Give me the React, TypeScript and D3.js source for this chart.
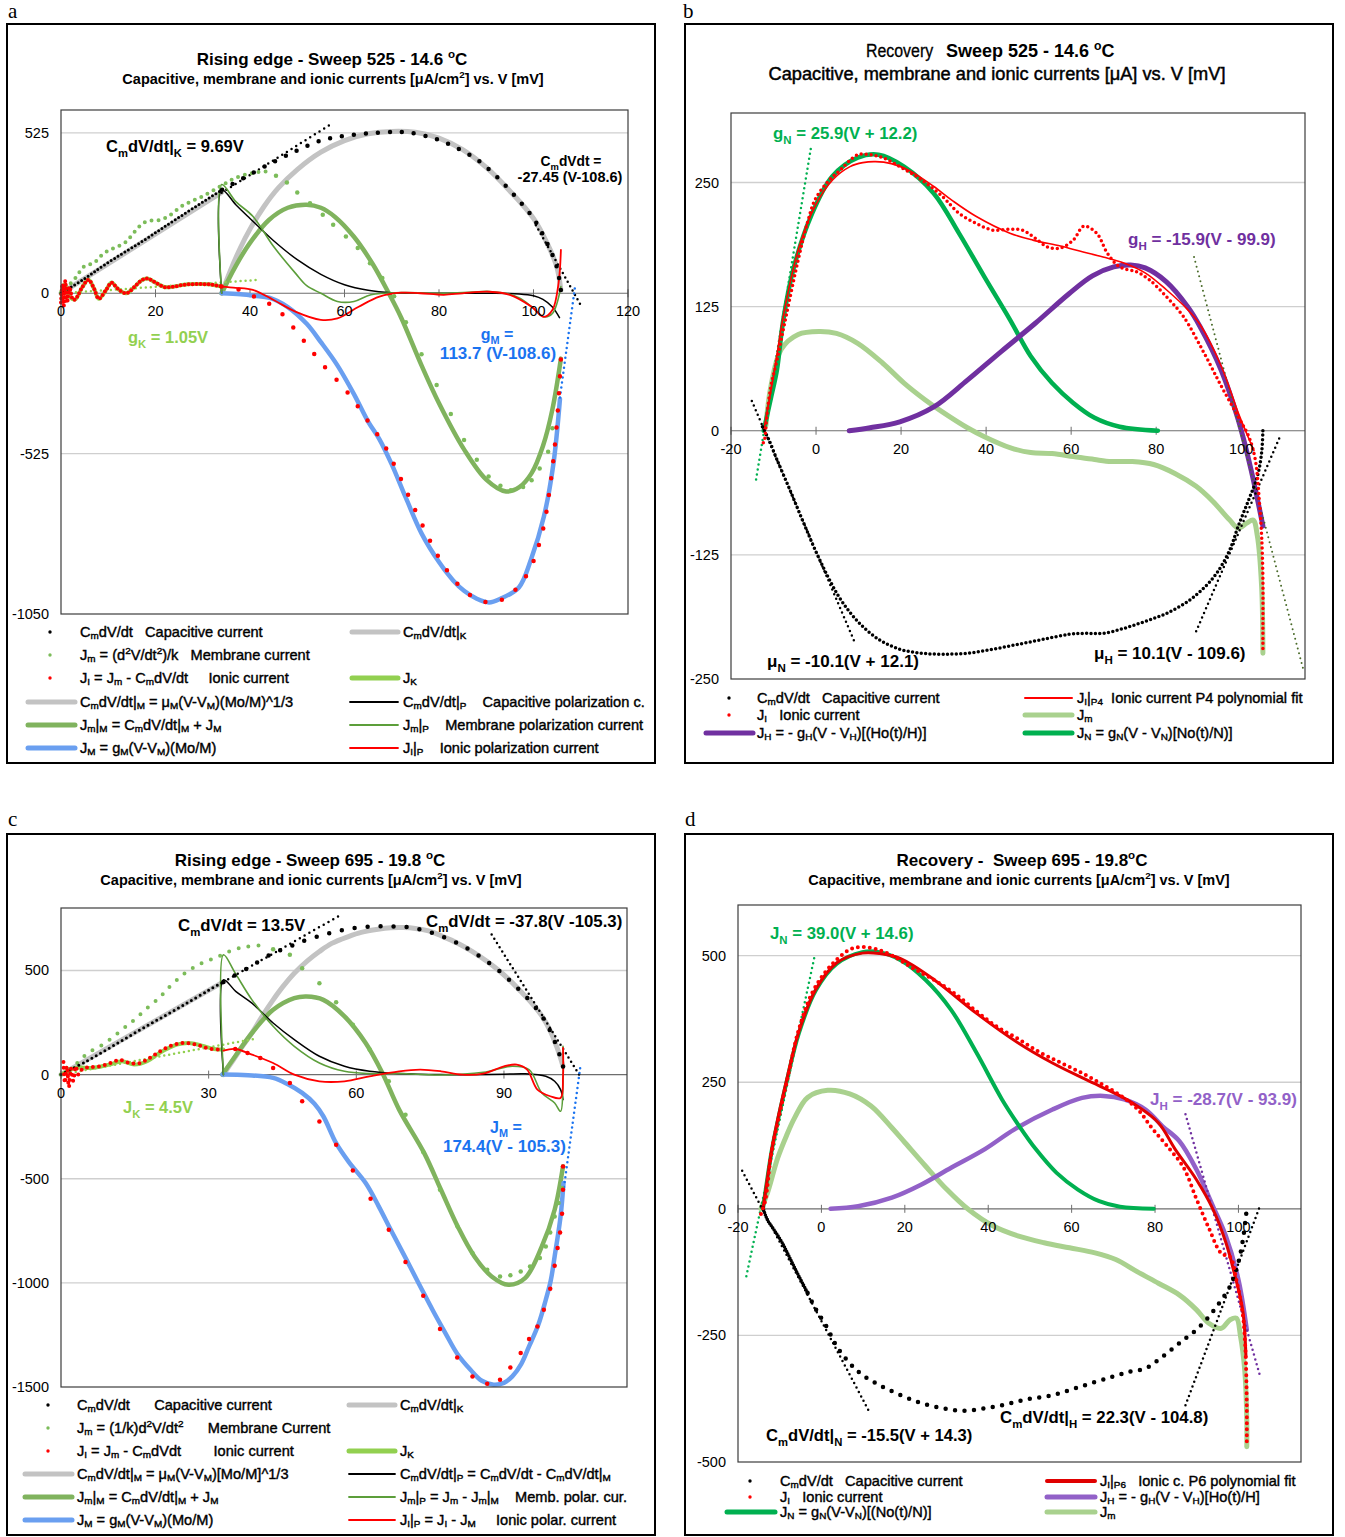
import React from 'react';
import * as d3 from 'd3';

type P = [number, number];

const FONT = "'Liberation Sans', Arial, Helvetica, sans-serif";

// ================= Panel a : Rising edge, sweep 525 =================
const aXTicks = [0, 20, 40, 60, 80, 100, 120];
const aYTicks = [525, 0, -525, -1050];
const aGrid = [525, -525];
const aGreyK: P[] = [[0, 0], [34, 330]];
const aGreyM: P[] = [[34, 0], [36, 80], [38, 150], [40, 210], [43, 285], [46, 345], [50, 405], [55, 462], [60, 500], [65, 522], [70, 530], [75, 527], [80, 508], [85, 470], [90, 412], [95, 335], [100, 245], [103, 160], [104.9, 88], [105.8, 10]];
const aKOsc: P[] = [[0, 0], [0.8, 30], [1.8, -10], [3, -20], [4.5, 20], [5.8, 44], [7, 15], [8, -18], [9.5, 10], [10.7, 35], [12, 15], [13.8, 0], [15.5, 20], [17, 42], [18.3, 48], [20, 35], [22, 20], [24, 22], [26, 28], [28, 30], [30, 30], [32, 28], [34, 22]];
const aMemM: P[] = [[34, 0], [37, 90], [40, 165], [44, 240], [48, 280], [52, 290], [55, 280], [58, 250], [62, 185], [66, 95], [69.2, 5], [72, -80], [76.3, -236], [80, -360], [85.3, -511], [90, -610], [94.2, -649], [97, -635], [99.6, -589], [102, -500], [104, -380], [105.8, -214]];
const aJM: P[] = [[34, 0], [38, -3], [41, -8], [44.2, -15], [48, -45], [52, -100], [55, -160], [58.5, -236], [62, -330], [65, -420], [67.4, -478], [70, -560], [73, -670], [76.3, -786], [80, -880], [83, -940], [85.3, -974], [88, -1000], [90.6, -1012], [93, -1000], [96.9, -963], [99.5, -870], [102.2, -731], [104.2, -560], [105.6, -346]];
const aKFit: P[] = [[0, 0], [42, 44]];
const aCapFitK: P[] = [[34, 329], [57, 552]];
const aCapFitM: P[] = [[100.5, 223], [110.3, -47]];
const aJMFit: P[] = [[105.6, -341], [108.8, 23]];
const aPolCap: P[] = [[34, 0], [34, 339], [37, 290], [40, 245], [45, 172], [50, 110], [55, 62], [60, 28], [65, 10], [70, 2], [80, 0], [90, 0], [97, -2], [100, -8], [102, -20], [104, -45], [105.5, -80]];
const aPolMem: P[] = [[34, 0], [34, 356], [37, 300], [40.6, 252], [45, 153], [49.6, 66], [52, 25], [55, 0], [58.5, -27], [62, -27], [65.6, -5], [72, 2], [81, 0], [87, 4], [90.6, 6], [94, 0], [97, -15], [99.6, -44], [102.2, -77], [104, -66], [105.8, 22]];
const aPolIon: P[] = [[34, 22], [37, 18], [40.6, 11], [45, -22], [49.6, -60], [55, -87], [58.5, -82], [63, -44], [67.4, -11], [72, 2], [76, 0], [81, -5], [85, 0], [90.6, 5], [95, -5], [99.6, -44], [102.2, -77], [104, -55], [105.3, 33], [105.8, 142]];
const aMemRise: P[] = [[0, 0], [3, 49], [4.9, 88], [7, 100], [9, 130], [11.2, 148], [13.5, 165], [15.5, 200], [17.4, 230], [19, 238], [21, 240], [23, 255], [25.4, 284], [27.5, 300], [29.9, 317], [32, 335], [34.4, 356], [37, 378], [40.6, 394], [43.3, 399]];
const aMemFall: P[] = [[45.5, 385], [47.8, 363], [50, 330], [52.7, 295], [55.4, 257], [57.6, 224], [60.3, 186], [62.8, 148], [65.4, 98], [68, 50], [70.5, -10], [73, -95], [76.3, -200], [79.5, -300], [82.5, -395], [85.3, -480], [88, -545], [90.5, -600], [93, -630], [95.2, -645], [97.8, -634], [99.6, -612], [101.3, -574], [103.1, -519], [104, -442], [105.4, -276]];
const aCapRise: P[] = [[0, 0], [4.7, 45], [9.4, 95], [17.4, 172], [24.6, 245], [34.1, 339]];
const aCapArch: P[] = [[34.1, 339], [40.6, 394], [46, 438], [50.4, 470], [54.9, 500], [58.5, 512], [63, 521], [67.4, 526], [71, 528], [73.7, 526], [79, 507], [83.5, 478], [88, 438], [92, 385], [96, 320], [100, 245], [103, 160], [104.9, 88], [105.8, 10]];
const aIonRise: P[] = [[0, -30], [0.3, 30], [0.6, -40], [0.9, 40], [1.3, -30], [1.8, 20], [2.5, -20], [3, -20], [4.5, 20], [5.8, 44], [7, 15], [8, -18], [9.5, 10], [10.7, 35], [12, 15], [13.8, 0], [15.5, 20], [17, 42], [18.3, 48], [20, 35], [22, 20], [24, 22], [26, 28], [28, 30], [30, 30], [32, 28], [34, 22]];
const aIonFall: P[] = [[34, 22], [38, 10], [42, -20], [45.5, -48], [50.4, -136], [55.2, -230], [60.3, -318], [65.4, -428], [68.3, -494], [71, -577], [76.3, -753], [81.2, -896], [86.2, -984], [90.6, -1012], [94.2, -996], [98.7, -919], [101.8, -787], [103.6, -621], [104.9, -434], [105.8, -214]];

// ================= Panel b : Recovery, sweep 525 =================
const bXTicks = [-20, 0, 20, 40, 60, 80, 100];
const bYTicks = [250, 125, 0, -125, -250];
const bGrid = [250, 125, -125];
const bJm: P[] = [[-11.8, 5], [-10.6, 45], [-8.2, 82], [-4.2, 97], [0.8, 100], [4.8, 98], [9.8, 88], [15.7, 68], [20.7, 48], [25.7, 31], [29.7, 19], [35.6, 3], [39.6, -6], [45.6, -17], [50.5, -22], [55.5, -23], [60.5, -26], [65.5, -29], [69.5, -31], [74.4, -31], [79.4, -34], [84.4, -43], [89.4, -56], [93.3, -71], [97.3, -90], [99.3, -98], [101.3, -93], [102.8, -90], [103.8, -106], [104.8, -157], [105.1, -224]];
const bJN: P[] = [[-12.3, 0], [-10.5, 35], [-9.2, 61], [-7.7, 112], [-5.2, 165], [-1.2, 216], [3.8, 256], [9.8, 275], [14.7, 278], [20.7, 266], [27.7, 239], [33.6, 199], [39.6, 155], [45.6, 112], [50.5, 75], [55.5, 48], [60.5, 28], [65.5, 13], [71.4, 4], [80.4, 0]];
const bJH: P[] = [[7.8, 0], [12.7, 3], [19.7, 9], [27.7, 24], [35.6, 51], [43.6, 80], [51.5, 108], [59.5, 138], [65, 156], [70, 165], [74, 167], [77.4, 164], [82.4, 150], [87.4, 125], [90.3, 105], [95.3, 61], [99.3, 11], [102.3, -39], [105.1, -96]];
const bGN: P[] = [[-14.1, -49], [-1.2, 285]];
const bGH: P[] = [[88.9, 175], [114.7, -242]];
const bMuN: P[] = [[-15.1, 30], [9.3, -215]];
const bMuH: P[] = [[89.4, -202], [109.3, -4]];
const bIonFit: P[] = [[-12.3, 0], [-10, 55], [-7.5, 120], [-4, 185], [0, 228], [4, 253], [8, 266], [11, 270], [14, 271], [17.7, 269], [22, 262], [27.7, 246], [32, 232], [37.6, 216], [45.6, 199], [51, 192], [57.5, 186], [62, 181], [67.5, 175], [72.4, 169], [77.4, 159], [82.4, 142], [87.4, 122], [90.3, 107], [95.3, 65], [99.3, 18], [101.3, -3], [103, -20]];
const bCapDots: P[] = [[-12.6, 4], [-11.1, -9], [-9.2, -29], [-6.2, -59], [-3.2, -90], [-0.2, -120], [2.8, -147], [5.8, -170], [9.8, -192], [14.7, -210], [19.7, -220], [24.7, -224], [29.7, -225], [35.6, -224], [41.6, -220], [47.6, -215], [53.5, -210], [59.5, -205], [63.5, -204], [67.5, -204], [72.4, -199], [77.4, -192], [82.4, -184], [87.4, -172], [91.3, -158], [94.3, -143], [97.3, -120], [99.3, -96], [101.8, -69], [103.8, -46], [104.8, -22], [105.1, 1]];
const bIonDots: P[] = [[-12.4, -12], [-12.1, -9], [-11.6, 14], [-10.6, 45], [-9.2, 71], [-7.7, 102], [-7.2, 112], [-4.2, 172], [-2, 210], [-0.2, 233], [2.8, 251], [5.8, 263], [9.8, 278], [12.7, 278], [15.7, 275], [19.7, 266], [24.7, 253], [29.7, 236], [33.6, 219], [37.6, 209], [41.6, 202], [45.6, 203], [48.6, 202], [51.5, 194], [54.5, 185], [57.5, 184], [60.5, 192], [63, 206], [66, 199], [68.5, 179], [71.4, 165], [75.4, 160], [78.4, 152], [82.4, 135], [86.4, 115], [91.3, 78], [95.3, 45], [99.3, 14], [101.8, -6], [103.3, -29], [104.3, -73], [104.8, -106], [105.1, -150], [105.1, -197], [105.1, -224]];

// ================= Panel c : Rising edge, sweep 695 =================
const cXTicks = [0, 30, 60, 90];
const cYTicks = [500, 0, -500, -1000, -1500];
const cGrid = [500, -500, -1000];
const cGreyK: P[] = [[0, 0], [33, 445]];
const cGreyM: P[] = [[33, 0], [35, 70], [37, 140], [38.8, 200], [41, 285], [43.1, 359], [45, 420], [47.4, 487], [50, 545], [52.5, 591], [55, 630], [58.4, 663], [61, 683], [64.4, 698], [67, 705], [69.5, 706], [72, 702], [74.7, 690], [77.5, 664], [80.6, 631], [83.6, 591], [86.6, 543], [89.2, 495], [91.3, 450], [93.4, 400], [95.6, 345], [97.7, 282], [99.4, 210], [100.7, 135], [101.5, 80], [102, 40]];
const cKOsc: P[] = [[0, 0], [3, 32], [6.4, 32], [9.8, 48], [12.4, 64], [14.9, 48], [17.5, 64], [20, 104], [23.5, 144], [26, 152], [28.6, 139], [31.1, 123], [33, 120]];
const cMemM: P[] = [[32.8, 0], [35, 75], [38.8, 200], [43.1, 311], [47.4, 367], [49.9, 375], [53.3, 359], [57.6, 280], [61.9, 152], [65.3, 8], [68.7, -168], [73.8, -377], [77.2, -553], [80.6, -729], [84, -873], [87.5, -969], [90.9, -1009], [94.3, -977], [97.7, -825], [100.3, -649], [102, -441]];
const cJM: P[] = [[32.8, 0], [38, -3], [43.1, -16], [46, -45], [49, -88], [51.5, -140], [53.3, -200], [55.9, -329], [58.5, -420], [61.9, -521], [64.5, -630], [67, -745], [70, -880], [73, -1017], [75.5, -1130], [78.1, -1241], [80.5, -1340], [83.2, -1417], [85.5, -1470], [87.9, -1489], [90, -1480], [91.7, -1449], [93.5, -1390], [95.1, -1305], [97, -1200], [98.5, -1081], [99.5, -990], [100.3, -873], [101.5, -681], [102.1, -521]];
const cKFit: P[] = [[0, 0], [39, 170]];
const cCapFitK: P[] = [[33, 445], [56.7, 765]];
const cCapFitM: P[] = [[87.5, 673], [105.5, -8]];
const cJMFit: P[] = [[102.2, -540], [105.5, 35]];
const cPolCap: P[] = [[33, 0], [33, 455], [35.5, 400], [38.8, 343], [43.1, 248], [47.4, 168], [52.5, 88], [57.6, 40], [62.7, 16], [68.7, 5], [77.2, 0], [90, 2], [94.3, 4], [98.5, -8], [100.3, -32], [101.5, -72], [102, -120]];
const cPolMem: P[] = [[33, 0], [33, 575], [35.4, 487], [38.8, 359], [43.1, 232], [47.4, 136], [52.5, 56], [57.6, 16], [62.7, 5], [68.7, 5], [77.2, -2], [85.8, 11], [91.7, 40], [95.1, 24], [97.7, -88], [100.3, -136], [101.5, -176], [102, -40], [102, 136]];
const cPolIon: P[] = [[33, 115], [35.4, 123], [38.8, 96], [43.1, 56], [47.4, 0], [52.5, -32], [57.6, -32], [62.7, -8], [68.7, 16], [73, 24], [77.2, 16], [81.5, 0], [85.8, 5], [90, 40], [92.6, 48], [94.7, 24], [96.8, -72], [99.4, -104], [101.5, -112], [102, -8], [102, 128]];
const cMemRise: P[] = [[0, 0], [3, 50], [5.5, 104], [9, 152], [12.4, 216], [15, 265], [17.5, 319], [20, 370], [21.8, 415], [25.2, 487], [28.6, 535], [32, 567], [35, 599], [37.9, 615], [40.5, 620]];
const cMemFall: P[] = [[43.1, 602], [46.5, 575], [49, 511], [52.5, 439], [55.9, 347], [59.3, 240], [62.7, 120], [66.6, -32], [70, -193], [73.6, -372], [77, -553], [80.5, -726], [83.6, -857], [86.6, -937], [89.2, -969], [91.3, -964], [93.4, -945], [95.3, -921], [97.3, -881], [98.5, -825], [99.4, -758], [100.3, -681], [101.1, -617], [101.8, -545], [102, -441]];
const cCapRise: P[] = [[0, 0], [5, 62], [10, 130], [15, 200], [20, 268], [25, 335], [30, 405], [33, 445]];
const cCapArch: P[] = [[33, 445], [37.9, 511], [43.1, 583], [46.5, 615], [49, 639], [52.5, 666], [55.9, 687], [59.3, 703], [63.1, 711], [66.6, 712], [70.4, 708], [73.8, 692], [77.2, 666], [80.6, 631], [83.6, 591], [86.6, 543], [89.2, 495], [91.3, 450], [93.4, 400], [95.6, 345], [97.7, 282], [99.4, 210], [100.7, 135], [101.5, 80], [102, 40], [102, -10]];
const cIonRise: P[] = [[0.5, 60], [0.8, -40], [1.2, 40], [1.6, -60], [2, 30], [2.5, -30], [3, 40], [3.5, 0], [4.5, 30], [6, 35], [8, 40], [10, 55], [12, 70], [14, 55], [16, 55], [18, 80], [20, 110], [22, 135], [24, 150], [26, 150], [28, 140], [30, 125], [33, 120]];
const cIonFall: P[] = [[35.4, 123], [37.9, 104], [40.5, 80], [43.1, 32], [46.5, -40], [49, -128], [52.5, -225], [55.9, -337], [59.3, -460], [62.9, -596], [66.6, -745], [70, -900], [73.6, -1062], [77, -1222], [80.5, -1358], [83.6, -1449], [86.6, -1484], [89.2, -1465], [91.3, -1406], [93.4, -1337], [95.1, -1270], [96.8, -1209], [98.1, -1129], [99.4, -1028], [100.3, -918], [100.9, -833], [101.4, -758], [101.8, -668], [102, -553], [102, -441]];

// ================= Panel d : Recovery, sweep 695 =================
const dXTicks = [-20, 0, 20, 40, 60, 80, 100];
const dYTicks = [500, 250, 0, -250, -500];
const dGrid = [500, 250, -250];
const dJm: P[] = [[-14.5, 0], [-13, 30], [-10.5, 100], [-8.4, 144], [-6.4, 180], [-3.3, 220], [1.5, 234], [6.8, 227], [11.9, 203], [16.9, 160], [20, 131], [24.9, 85], [30.1, 38], [35.2, -1], [41.2, -34], [47.3, -54], [53.4, -67], [59.5, -77], [65.6, -87], [70.6, -100], [75.7, -124], [80.8, -147], [85.8, -170], [89.9, -199], [92.9, -226], [95.9, -236], [98, -219], [99.5, -216], [100.5, -252], [101.5, -318], [102, -417], [102, -470]];
const dJH: P[] = [[2.2, 0], [8.8, 5], [16.9, 22], [24, 48], [31.1, 81], [39.2, 118], [46.3, 157], [55.4, 196], [62.5, 219], [67.6, 223], [72.6, 216], [77.7, 196], [81.8, 163], [85.8, 134], [89.9, 78], [93.9, 5], [97, -54], [100, -140], [102, -239]];
const dJN: P[] = [[-14, 0], [-12, 111], [-10.9, 157], [-8.4, 249], [-5.4, 347], [-1.3, 432], [3.7, 484], [9.8, 507], [13.9, 507], [19, 491], [25, 452], [31.1, 393], [37.2, 308], [43.3, 216], [47.3, 165], [51.4, 118], [56.4, 71], [61.5, 38], [66.6, 15], [71.6, 4], [79.7, 0]];
const dGN: P[] = [[-18, -133], [-1.5, 504]];
const dGH: P[] = [[87.3, 187], [105.1, -328]];
const dFitN: P[] = [[-19, 75], [11.3, -398]];
const dFitH: P[] = [[87.3, -388], [105, 2]];
const dIonFit: P[] = [[-14, 0], [-12, 111], [-10.9, 160], [-8.4, 252], [-5.4, 350], [-1.3, 434], [3.7, 486], [9.8, 505], [14, 504], [19, 494], [27.1, 452], [37.2, 386], [47.3, 327], [55.4, 288], [63.5, 255], [71.6, 223], [75.7, 203], [80.8, 170], [84.8, 118], [89.9, 58], [93.9, -1], [97, -67], [99, -127], [101, -199], [101.8, -292]];
const dCapStart: P[] = [[-14, 2], [-13, -21], [-11.4, -41], [-9.4, -67], [-7.4, -100], [-5.4, -133], [-3.3, -166]];
const dCapArc: P[] = [[-3.3, -166], [-1.3, -199], [1.2, -232], [3.7, -272], [6.8, -305], [9.8, -328], [13.9, -348], [19, -368], [24, -384], [29.1, -394], [34.1, -399], [39.2, -394], [44.3, -386], [49.3, -376], [54.4, -370], [59.5, -358], [64.5, -345], [69.6, -332], [73.7, -322], [77.7, -315], [80.7, -299], [83.8, -279], [86.8, -259], [89.9, -239], [92.9, -213], [95.4, -186], [98, -153], [99.5, -120], [100.5, -87], [101.2, -54], [101.7, -21], [102, -1]];
const dIonDots: P[] = [[-14.5, -10], [-13.5, 15], [-12, 111], [-10.5, 170], [-8, 262], [-5.5, 352], [-2, 430], [2, 478], [6.8, 512], [9.8, 517], [13, 513], [17, 500], [22, 475], [27, 452], [32, 425], [37.2, 390], [42, 360], [47.3, 335], [52.4, 309], [57.5, 288], [62.5, 268], [67.5, 245], [72, 222], [76, 195], [79.2, 160], [82.8, 125], [86.8, 82], [89.9, 20], [92.9, -38], [95.9, -88], [98, -95], [99.5, -140], [101, -206], [101.5, -252], [101.8, -305], [102, -391], [102, -467]];

// ================= styles =================
const C = {
  grey: '#c3c3c3', lgreen: '#92d050', mgreen: '#80b35e', dgreen: '#5c9e3a', gdot: '#7cbc5a',
  blue: '#6a9ff0', blueTxt: '#1a73f0', red: '#ff0000', nGreen: '#00b050', purple: '#7030a0',
  purpleD: '#9261c8', jm: '#a9d18e', olive: '#4a6b2a',
};

type Series = { data: P[]; kind: 'line' | 'dotpath' | 'dots'; color: string; w: number; gap?: number };
type Label = {
  text: string; x: number; y: number; size: number; color?: string; weight?: string; anchor?: string;
  stroke?: number; ls?: number; len?: number; sub?: number;
};
type Leg = { kind: 'dot' | 'line'; color: string; w: number; x1: number; x2: number; y: number; text: string; tx: number };
type Cfg = {
  id: string; letter: string; lx: number; ly: number; frame: [number, number, number, number];
  plot: [number, number, number, number]; xDomain: [number, number]; yDomain: [number, number];
  xTicks: number[]; yTicks: number[]; grid: number[]; series: Series[]; labels: Label[]; legend: Leg[];
  legSize: number;
};

function rich(s: string, fs: number, sub = 0.28): React.ReactNode[] {
  const out: React.ReactNode[] = [];
  const re = /([_^])\{([^}]*)\}/g;
  let last = 0, shift = 0, k = 0;
  let m: RegExpExecArray | null;
  while ((m = re.exec(s)) !== null) {
    if (m.index > last) {
      out.push(<tspan key={k++} dy={-shift}>{s.slice(last, m.index)}</tspan>);
      shift = 0;
    }
    const d = m[1] === '_' ? fs * sub : -fs * 0.4;
    out.push(<tspan key={k++} dy={d - shift} fontSize={fs * 0.68}>{m[2]}</tspan>);
    shift = d;
    last = re.lastIndex;
  }
  if (last < s.length) out.push(<tspan key={k++} dy={-shift}>{s.slice(last)}</tspan>);
  return out;
}

function T({ l }: { l: Label }) {
  const extra: any = {};
  if (l.len) { extra.textLength = l.len; extra.lengthAdjust = 'spacingAndGlyphs'; }
  return (
    <text x={l.x} y={l.y} fontSize={l.size} fill={l.color || '#000'} fontWeight={l.weight || 'normal'}
      textAnchor={(l.anchor as any) || 'start'} fontFamily={FONT}
      stroke={l.stroke ? (l.color || '#000') : undefined} strokeWidth={l.stroke || undefined}
      letterSpacing={l.ls || undefined}
      style={{ whiteSpace: 'pre' }} {...extra}>
      {rich(l.text, l.size, l.sub ?? 0.28)}
    </text>
  );
}

function Panel({ cfg }: { cfg: Cfg }) {
  const [l, t, r, b] = cfg.plot;
  const x = d3.scaleLinear().domain(cfg.xDomain).range([l, r]);
  const y = d3.scaleLinear().domain(cfg.yDomain).range([b, t]);
  const smooth = d3.line<P>().x(d => x(d[0])).y(d => y(d[1])).curve(d3.curveCatmullRom.alpha(0.5));
  const y0 = y(0);
  const clip = `clip-${cfg.id}`;
  const [fx, fy, fw, fh] = cfg.frame;
  return (
    <g>
      <defs>
        <clipPath id={clip}><rect x={l - 4} y={t - 4} width={r - l + 8} height={b - t + 8} /></clipPath>
      </defs>
      <text x={cfg.lx} y={cfg.ly} fontSize={21} fontFamily="'Liberation Serif', 'Times New Roman', serif">{cfg.letter}</text>
      <rect x={fx} y={fy} width={fw} height={fh} fill="#fff" stroke="#000" strokeWidth={2} />
      {cfg.grid.map(g => <line key={g} x1={l} x2={r} y1={y(g)} y2={y(g)} stroke="#cfcfcf" strokeWidth={1.3} />)}
      <line x1={l} x2={r} y1={y0} y2={y0} stroke="#6e6e6e" strokeWidth={1.2} />
      {cfg.xTicks.map(v => <line key={v} x1={x(v)} x2={x(v)} y1={y0 - 4} y2={y0 + 4} stroke="#6e6e6e" strokeWidth={1} />)}
      <g clipPath={`url(#${clip})`}>
        {cfg.series.map((s, i) => {
          if (s.kind === 'dots') {
            return <g key={i}>{s.data.map((d, j) => <circle key={j} cx={x(d[0])} cy={y(d[1])} r={s.w / 2} fill={s.color} />)}</g>;
          }
          if (s.kind === 'dotpath') {
            return <path key={i} d={smooth(s.data) || ''} fill="none" stroke={s.color} strokeWidth={s.w}
              strokeLinecap="round" strokeDasharray={`0 ${s.gap || 5}`} />;
          }
          return <path key={i} d={smooth(s.data) || ''} fill="none" stroke={s.color} strokeWidth={s.w}
            strokeLinejoin="round" strokeLinecap="round" />;
        })}
      </g>
      <rect x={l} y={t} width={r - l} height={b - t} fill="none" stroke="#3c3c3c" strokeWidth={1.2} />
      {cfg.yTicks.map(v => (
        <text key={v} x={l - 12} y={y(v) + 5} fontSize={14.5} textAnchor="end" fontFamily={FONT}>{v}</text>
      ))}
      {cfg.xTicks.map(v => (
        <text key={v} x={x(v)} y={y0 + 23} fontSize={14.5} textAnchor="middle" fontFamily={FONT}>{v}</text>
      ))}
      {cfg.labels.map((lb, i) => <T key={i} l={lb} />)}
      {cfg.legend.map((g, i) => (
        <g key={i}>
          {g.kind === 'dot'
            ? <circle cx={(g.x1 + g.x2) / 2} cy={g.y} r={g.w} fill={g.color} />
            : <line x1={g.x1} x2={g.x2} y1={g.y} y2={g.y} stroke={g.color} strokeWidth={g.w} strokeLinecap="round" />}
          <T l={{ text: g.text, x: g.tx, y: g.y + 5, size: cfg.legSize, color: '#000', stroke: 0.4, sub: 0.15 }} />
        </g>
      ))}
    </g>
  );
}

const panelA: Cfg = {
  id: 'a', letter: 'a', lx: 8, ly: 18, frame: [7, 24, 648, 739], plot: [61, 110, 628, 614],
  xDomain: [0, 120], yDomain: [-1050, 600], xTicks: aXTicks, yTicks: aYTicks, grid: aGrid, legSize: 14.6,
  series: [
    { data: aGreyK, kind: 'line', color: C.grey, w: 5 },
    { data: aGreyM, kind: 'line', color: C.grey, w: 5 },
    { data: aKOsc, kind: 'line', color: C.lgreen, w: 4 },
    { data: aMemM, kind: 'line', color: C.mgreen, w: 4.5 },
    { data: aJM, kind: 'line', color: C.blue, w: 4.5 },
    { data: aKFit, kind: 'dotpath', color: C.lgreen, w: 2.5, gap: 5 },
    { data: aCapFitK, kind: 'dotpath', color: '#000', w: 2.5, gap: 5.5 },
    { data: aCapFitM, kind: 'dotpath', color: '#000', w: 2.5, gap: 5 },
    { data: aJMFit, kind: 'dotpath', color: C.blueTxt, w: 2.5, gap: 5 },
    { data: aPolCap, kind: 'line', color: '#000', w: 1.5 },
    { data: aPolMem, kind: 'line', color: C.dgreen, w: 1.6 },
    { data: aPolIon, kind: 'line', color: C.red, w: 1.8 },
    { data: aMemRise, kind: 'dotpath', color: C.gdot, w: 4, gap: 7 },
    { data: aMemFall, kind: 'dots', color: C.gdot, w: 4.5 },
    { data: aCapRise, kind: 'dotpath', color: '#000', w: 3, gap: 4 },
    { data: aCapArch, kind: 'dotpath', color: '#000', w: 4.5, gap: 12 },
    { data: aIonRise, kind: 'dotpath', color: C.red, w: 4, gap: 4 },
    { data: aIonFall, kind: 'dotpath', color: C.red, w: 4.5, gap: 17 },
  ],
  labels: [
    { text: 'Rising edge - Sweep 525 - 14.6 ^{o}C', x: 332, y: 65, size: 17, weight: 'bold', anchor: 'middle' },
    { text: 'Capacitive, membrane and ionic currents [μA/cm^{2}] vs. V [mV]', x: 333, y: 84, size: 14.5, weight: 'bold', anchor: 'middle' },
    { text: 'C_{m}dV/dt|_{K} = 9.69V', x: 106, y: 152, size: 16.5, weight: 'bold' },
    { text: 'C_{m}dVdt =', x: 571, y: 166, size: 13.8, weight: 'bold', anchor: 'middle' },
    { text: '-27.45 (V-108.6)', x: 570, y: 182, size: 14.5, weight: 'bold', anchor: 'middle' },
    { text: 'g_{K} = 1.05V', x: 128, y: 343, size: 16.5, weight: 'bold', color: C.lgreen },
    { text: 'g_{M} =', x: 497, y: 340, size: 16, weight: 'bold', color: C.blueTxt, anchor: 'middle' },
    { text: '113.7 (V-108.6)', x: 498, y: 359, size: 17, weight: 'bold', color: C.blueTxt, anchor: 'middle' },
  ],
  legend: [
    { kind: 'dot', color: '#000', w: 1.7, x1: 50, x2: 50, y: 632, tx: 80, text: 'C_{m}dV/dt   Capacitive current' },
    { kind: 'dot', color: C.gdot, w: 1.7, x1: 50, x2: 50, y: 655, tx: 80, text: 'J_{m} = (d^{2}V/dt^{2})/k   Membrane current' },
    { kind: 'dot', color: C.red, w: 1.7, x1: 50, x2: 50, y: 678, tx: 80, text: 'J_{I} = J_{m} - C_{m}dV/dt     Ionic current' },
    { kind: 'line', color: C.grey, w: 5, x1: 28, x2: 75, y: 702, tx: 80, text: 'C_{m}dV/dt|_{M} = μ_{M}(V-V_{M})(Mo/M)^1/3' },
    { kind: 'line', color: C.mgreen, w: 5, x1: 28, x2: 75, y: 725, tx: 80, text: 'J_{m}|_{M} = C_{m}dV/dt|_{M} + J_{M}' },
    { kind: 'line', color: C.blue, w: 5, x1: 28, x2: 75, y: 748, tx: 80, text: 'J_{M} = g_{M}(V-V_{M})(Mo/M)' },
    { kind: 'line', color: C.grey, w: 5, x1: 352, x2: 398, y: 632, tx: 403, text: 'C_{m}dV/dt|_{K}' },
    { kind: 'line', color: C.lgreen, w: 5, x1: 352, x2: 398, y: 678, tx: 403, text: 'J_{K}' },
    { kind: 'line', color: '#000', w: 1.8, x1: 350, x2: 398, y: 702, tx: 403, text: 'C_{m}dV/dt|_{P}    Capacitive polarization c.' },
    { kind: 'line', color: C.dgreen, w: 1.8, x1: 350, x2: 398, y: 725, tx: 403, text: 'J_{m}|_{P}    Membrane polarization current' },
    { kind: 'line', color: C.red, w: 1.8, x1: 350, x2: 398, y: 748, tx: 403, text: 'J_{I}|_{P}    Ionic polarization current' },
  ],
};

const panelB: Cfg = {
  id: 'b', letter: 'b', lx: 683, ly: 18, frame: [685, 24, 648, 739], plot: [731, 113, 1305, 679],
  xDomain: [-20, 115], yDomain: [-250, 320], xTicks: bXTicks, yTicks: bYTicks, grid: bGrid, legSize: 14.6,
  series: [
    { data: bJm, kind: 'line', color: C.jm, w: 5 },
    { data: bJN, kind: 'line', color: C.nGreen, w: 4.5 },
    { data: bJH, kind: 'line', color: C.purple, w: 5 },
    { data: bGN, kind: 'dotpath', color: C.nGreen, w: 2.5, gap: 5 },
    { data: bGH, kind: 'dotpath', color: C.olive, w: 2, gap: 5 },
    { data: bMuN, kind: 'dotpath', color: '#000', w: 2.5, gap: 5 },
    { data: bMuH, kind: 'dotpath', color: '#000', w: 2.5, gap: 5 },
    { data: bIonFit, kind: 'line', color: C.red, w: 1.6 },
    { data: bCapDots, kind: 'dotpath', color: '#000', w: 3.5, gap: 4.4 },
    { data: bIonDots, kind: 'dotpath', color: C.red, w: 3.5, gap: 5 },
  ],
  labels: [
    { text: 'Recovery  ', x: 866, y: 57, size: 18, weight: 'normal', stroke: 0.3, len: 76 },
    { text: 'Sweep 525 - 14.6 ^{o}C', x: 946, y: 57, size: 18, weight: 'bold' },
    { text: 'Capacitive, membrane and ionic currents [μA] vs. V [mV]', x: 997, y: 80, size: 17.5, weight: 'normal', anchor: 'middle', stroke: 0.45, len: 457 },
    { text: 'g_{N} = 25.9(V + 12.2)', x: 773, y: 139, size: 16.8, weight: 'bold', color: C.nGreen },
    { text: 'g_{H} = -15.9(V - 99.9)', x: 1128, y: 245, size: 17, weight: 'bold', color: C.purple },
    { text: 'μ_{N} = -10.1(V + 12.1)', x: 767, y: 667, size: 17, weight: 'bold' },
    { text: 'μ_{H} = 10.1(V - 109.6)', x: 1094, y: 659, size: 17, weight: 'bold' },
  ],
  legend: [
    { kind: 'dot', color: '#000', w: 1.7, x1: 729, x2: 729, y: 698, tx: 757, text: 'C_{m}dV/dt   Capacitive current' },
    { kind: 'dot', color: C.red, w: 1.7, x1: 729, x2: 729, y: 715, tx: 757, text: 'J_{I}   Ionic current' },
    { kind: 'line', color: C.purple, w: 5, x1: 706, x2: 753, y: 733, tx: 757, text: 'J_{H} = - g_{H}(V - V_{H})[(Ho(t)/H)]' },
    { kind: 'line', color: C.red, w: 2, x1: 1025, x2: 1072, y: 698, tx: 1077, text: 'J_{I}|_{P4}  Ionic current P4 polynomial fit' },
    { kind: 'line', color: C.jm, w: 5, x1: 1025, x2: 1072, y: 715, tx: 1077, text: 'J_{m}' },
    { kind: 'line', color: C.nGreen, w: 5, x1: 1025, x2: 1072, y: 733, tx: 1077, text: 'J_{N} = g_{N}(V - V_{N})[No(t)/N)]' },
  ],
};

const panelC: Cfg = {
  id: 'c', letter: 'c', lx: 8, ly: 826, frame: [7, 834, 648, 701], plot: [61, 908, 627, 1387],
  xDomain: [0, 115], yDomain: [-1500, 800], xTicks: cXTicks, yTicks: cYTicks, grid: cGrid, legSize: 14.6,
  series: [
    { data: cGreyK, kind: 'line', color: C.grey, w: 5 },
    { data: cGreyM, kind: 'line', color: C.grey, w: 5 },
    { data: cKOsc, kind: 'line', color: C.lgreen, w: 4 },
    { data: cMemM, kind: 'line', color: C.mgreen, w: 4.5 },
    { data: cJM, kind: 'line', color: C.blue, w: 4.5 },
    { data: cKFit, kind: 'dotpath', color: C.lgreen, w: 2.5, gap: 5 },
    { data: cCapFitK, kind: 'dotpath', color: '#000', w: 2.5, gap: 5.5 },
    { data: cCapFitM, kind: 'dotpath', color: '#000', w: 2.5, gap: 5 },
    { data: cJMFit, kind: 'dotpath', color: C.blueTxt, w: 2.5, gap: 5 },
    { data: cPolCap, kind: 'line', color: '#000', w: 1.5 },
    { data: cPolMem, kind: 'line', color: C.dgreen, w: 1.6 },
    { data: cPolIon, kind: 'line', color: C.red, w: 1.8 },
    { data: cMemRise, kind: 'dotpath', color: C.gdot, w: 4, gap: 10 },
    { data: cMemFall, kind: 'dots', color: C.gdot, w: 4.5 },
    { data: cCapRise, kind: 'dotpath', color: '#000', w: 3, gap: 5 },
    { data: cCapArch, kind: 'dotpath', color: '#000', w: 4.5, gap: 13 },
    { data: cIonRise, kind: 'dotpath', color: C.red, w: 4, gap: 6 },
    { data: cIonFall, kind: 'dots', color: C.red, w: 4.5 },
  ],
  labels: [
    { text: 'Rising edge - Sweep 695 - 19.8 ^{o}C', x: 310, y: 866, size: 17, weight: 'bold', anchor: 'middle' },
    { text: 'Capacitive, membrane and ionic currents [μA/cm^{2}] vs. V [mV]', x: 311, y: 885, size: 14.5, weight: 'bold', anchor: 'middle' },
    { text: 'C_{m}dV/dt = 13.5V', x: 178, y: 931, size: 16.8, weight: 'bold' },
    { text: 'C_{m}dV/dt = -37.8(V -105.3)', x: 426, y: 927, size: 16.8, weight: 'bold' },
    { text: 'J_{K} = 4.5V', x: 123, y: 1113, size: 16.5, weight: 'bold', color: C.lgreen },
    { text: 'J_{M} =', x: 490, y: 1133, size: 16, weight: 'bold', color: C.blueTxt },
    { text: '174.4(V - 105.3)', x: 443, y: 1152, size: 17, weight: 'bold', color: C.blueTxt },
  ],
  legend: [
    { kind: 'dot', color: '#000', w: 1.7, x1: 48, x2: 48, y: 1405, tx: 77, text: 'C_{m}dV/dt      Capacitive current' },
    { kind: 'dot', color: C.gdot, w: 1.7, x1: 48, x2: 48, y: 1428, tx: 77, text: 'J_{m} = (1/k)d^{2}V/dt^{2}      Membrane Current' },
    { kind: 'dot', color: C.red, w: 1.7, x1: 48, x2: 48, y: 1451, tx: 77, text: 'J_{I} = J_{m} - C_{m}dVdt        Ionic current' },
    { kind: 'line', color: C.grey, w: 5, x1: 25, x2: 72, y: 1474, tx: 77, text: 'C_{m}dV/dt|_{M} = μ_{M}(V-V_{M})[Mo/M]^1/3' },
    { kind: 'line', color: C.mgreen, w: 5, x1: 25, x2: 72, y: 1497, tx: 77, text: 'J_{m}|_{M} = C_{m}dV/dt|_{M} + J_{M}' },
    { kind: 'line', color: C.blue, w: 5, x1: 25, x2: 72, y: 1520, tx: 77, text: 'J_{M} = g_{M}(V-V_{M})(Mo/M)' },
    { kind: 'line', color: C.grey, w: 5, x1: 349, x2: 395, y: 1405, tx: 400, text: 'C_{m}dV/dt|_{K}' },
    { kind: 'line', color: C.lgreen, w: 5, x1: 349, x2: 395, y: 1451, tx: 400, text: 'J_{K}' },
    { kind: 'line', color: '#000', w: 1.8, x1: 349, x2: 395, y: 1474, tx: 400, text: 'C_{m}dV/dt|_{P} = C_{m}dV/dt - C_{m}dV/dt|_{M}' },
    { kind: 'line', color: C.dgreen, w: 1.8, x1: 349, x2: 395, y: 1497, tx: 400, text: 'J_{m}|_{P} = J_{m} - J_{m}|_{M}    Memb. polar. cur.' },
    { kind: 'line', color: C.red, w: 1.8, x1: 349, x2: 395, y: 1520, tx: 400, text: 'J_{I}|_{P} = J_{I} - J_{M}     Ionic polar. current' },
  ],
};

const panelD: Cfg = {
  id: 'd', letter: 'd', lx: 685, ly: 826, frame: [685, 834, 648, 701], plot: [738, 905, 1301, 1462],
  xDomain: [-20, 115], yDomain: [-500, 600], xTicks: dXTicks, yTicks: dYTicks, grid: dGrid, legSize: 14.6,
  series: [
    { data: dJm, kind: 'line', color: C.jm, w: 5 },
    { data: dJH, kind: 'line', color: C.purpleD, w: 4.5 },
    { data: dJN, kind: 'line', color: C.nGreen, w: 4 },
    { data: dGN, kind: 'dotpath', color: C.nGreen, w: 2.5, gap: 5 },
    { data: dGH, kind: 'dotpath', color: C.purple, w: 2.5, gap: 5 },
    { data: dFitN, kind: 'dotpath', color: '#000', w: 2.5, gap: 5 },
    { data: dFitH, kind: 'dotpath', color: '#000', w: 2.5, gap: 5 },
    { data: dIonFit, kind: 'line', color: '#e00000', w: 3 },
    { data: dCapStart, kind: 'dotpath', color: '#000', w: 3.5, gap: 2.5 },
    { data: dCapArc, kind: 'dotpath', color: '#000', w: 4.5, gap: 9.5 },
    { data: dIonDots, kind: 'dotpath', color: C.red, w: 4, gap: 6 },
  ],
  labels: [
    { text: 'Recovery -  Sweep 695 - 19.8^{o}C', x: 1022, y: 866, size: 17, weight: 'bold', anchor: 'middle' },
    { text: 'Capacitive, membrane and ionic currents [μA/cm^{2}] vs. V [mV]', x: 1019, y: 885, size: 14.5, weight: 'bold', anchor: 'middle' },
    { text: 'J_{N} = 39.0(V + 14.6)', x: 770, y: 939, size: 16.8, weight: 'bold', color: C.nGreen },
    { text: 'J_{H} = -28.7(V - 93.9)', x: 1150, y: 1105, size: 17, weight: 'bold', color: C.purpleD },
    { text: 'C_{m}dV/dt|_{N} = -15.5(V + 14.3)', x: 766, y: 1441, size: 16.6, weight: 'bold' },
    { text: 'C_{m}dV/dt|_{H} = 22.3(V - 104.8)', x: 1000, y: 1423, size: 16.8, weight: 'bold' },
  ],
  legend: [
    { kind: 'dot', color: '#000', w: 1.7, x1: 750, x2: 750, y: 1481, tx: 780, text: 'C_{m}dV/dt   Capacitive current' },
    { kind: 'dot', color: C.red, w: 1.7, x1: 750, x2: 750, y: 1497, tx: 780, text: 'J_{I}   Ionic current' },
    { kind: 'line', color: C.nGreen, w: 5, x1: 727, x2: 775, y: 1512, tx: 780, text: 'J_{N} = g_{N}(V-V_{N})[(No(t)/N)]' },
    { kind: 'line', color: '#e00000', w: 4, x1: 1047, x2: 1095, y: 1481, tx: 1100, text: 'J_{I}|_{P6}   Ionic c. P6 polynomial fit' },
    { kind: 'line', color: C.purpleD, w: 5, x1: 1047, x2: 1095, y: 1497, tx: 1100, text: 'J_{H} = - g_{H}(V - V_{H})[Ho(t)/H]' },
    { kind: 'line', color: C.jm, w: 5, x1: 1047, x2: 1095, y: 1512, tx: 1100, text: 'J_{m}' },
  ],
};

const panels: Cfg[] = [panelA, panelB, panelC, panelD];

export default function App() {
  return (
    <svg width={1345} height={1537} style={{ position: 'absolute', left: 0, top: 0, background: '#fff' }}>
      <rect x={0} y={0} width={1345} height={1537} fill="#fff" />
      {panels.map(p => <Panel key={p.id} cfg={p} />)}
    </svg>
  );
}
